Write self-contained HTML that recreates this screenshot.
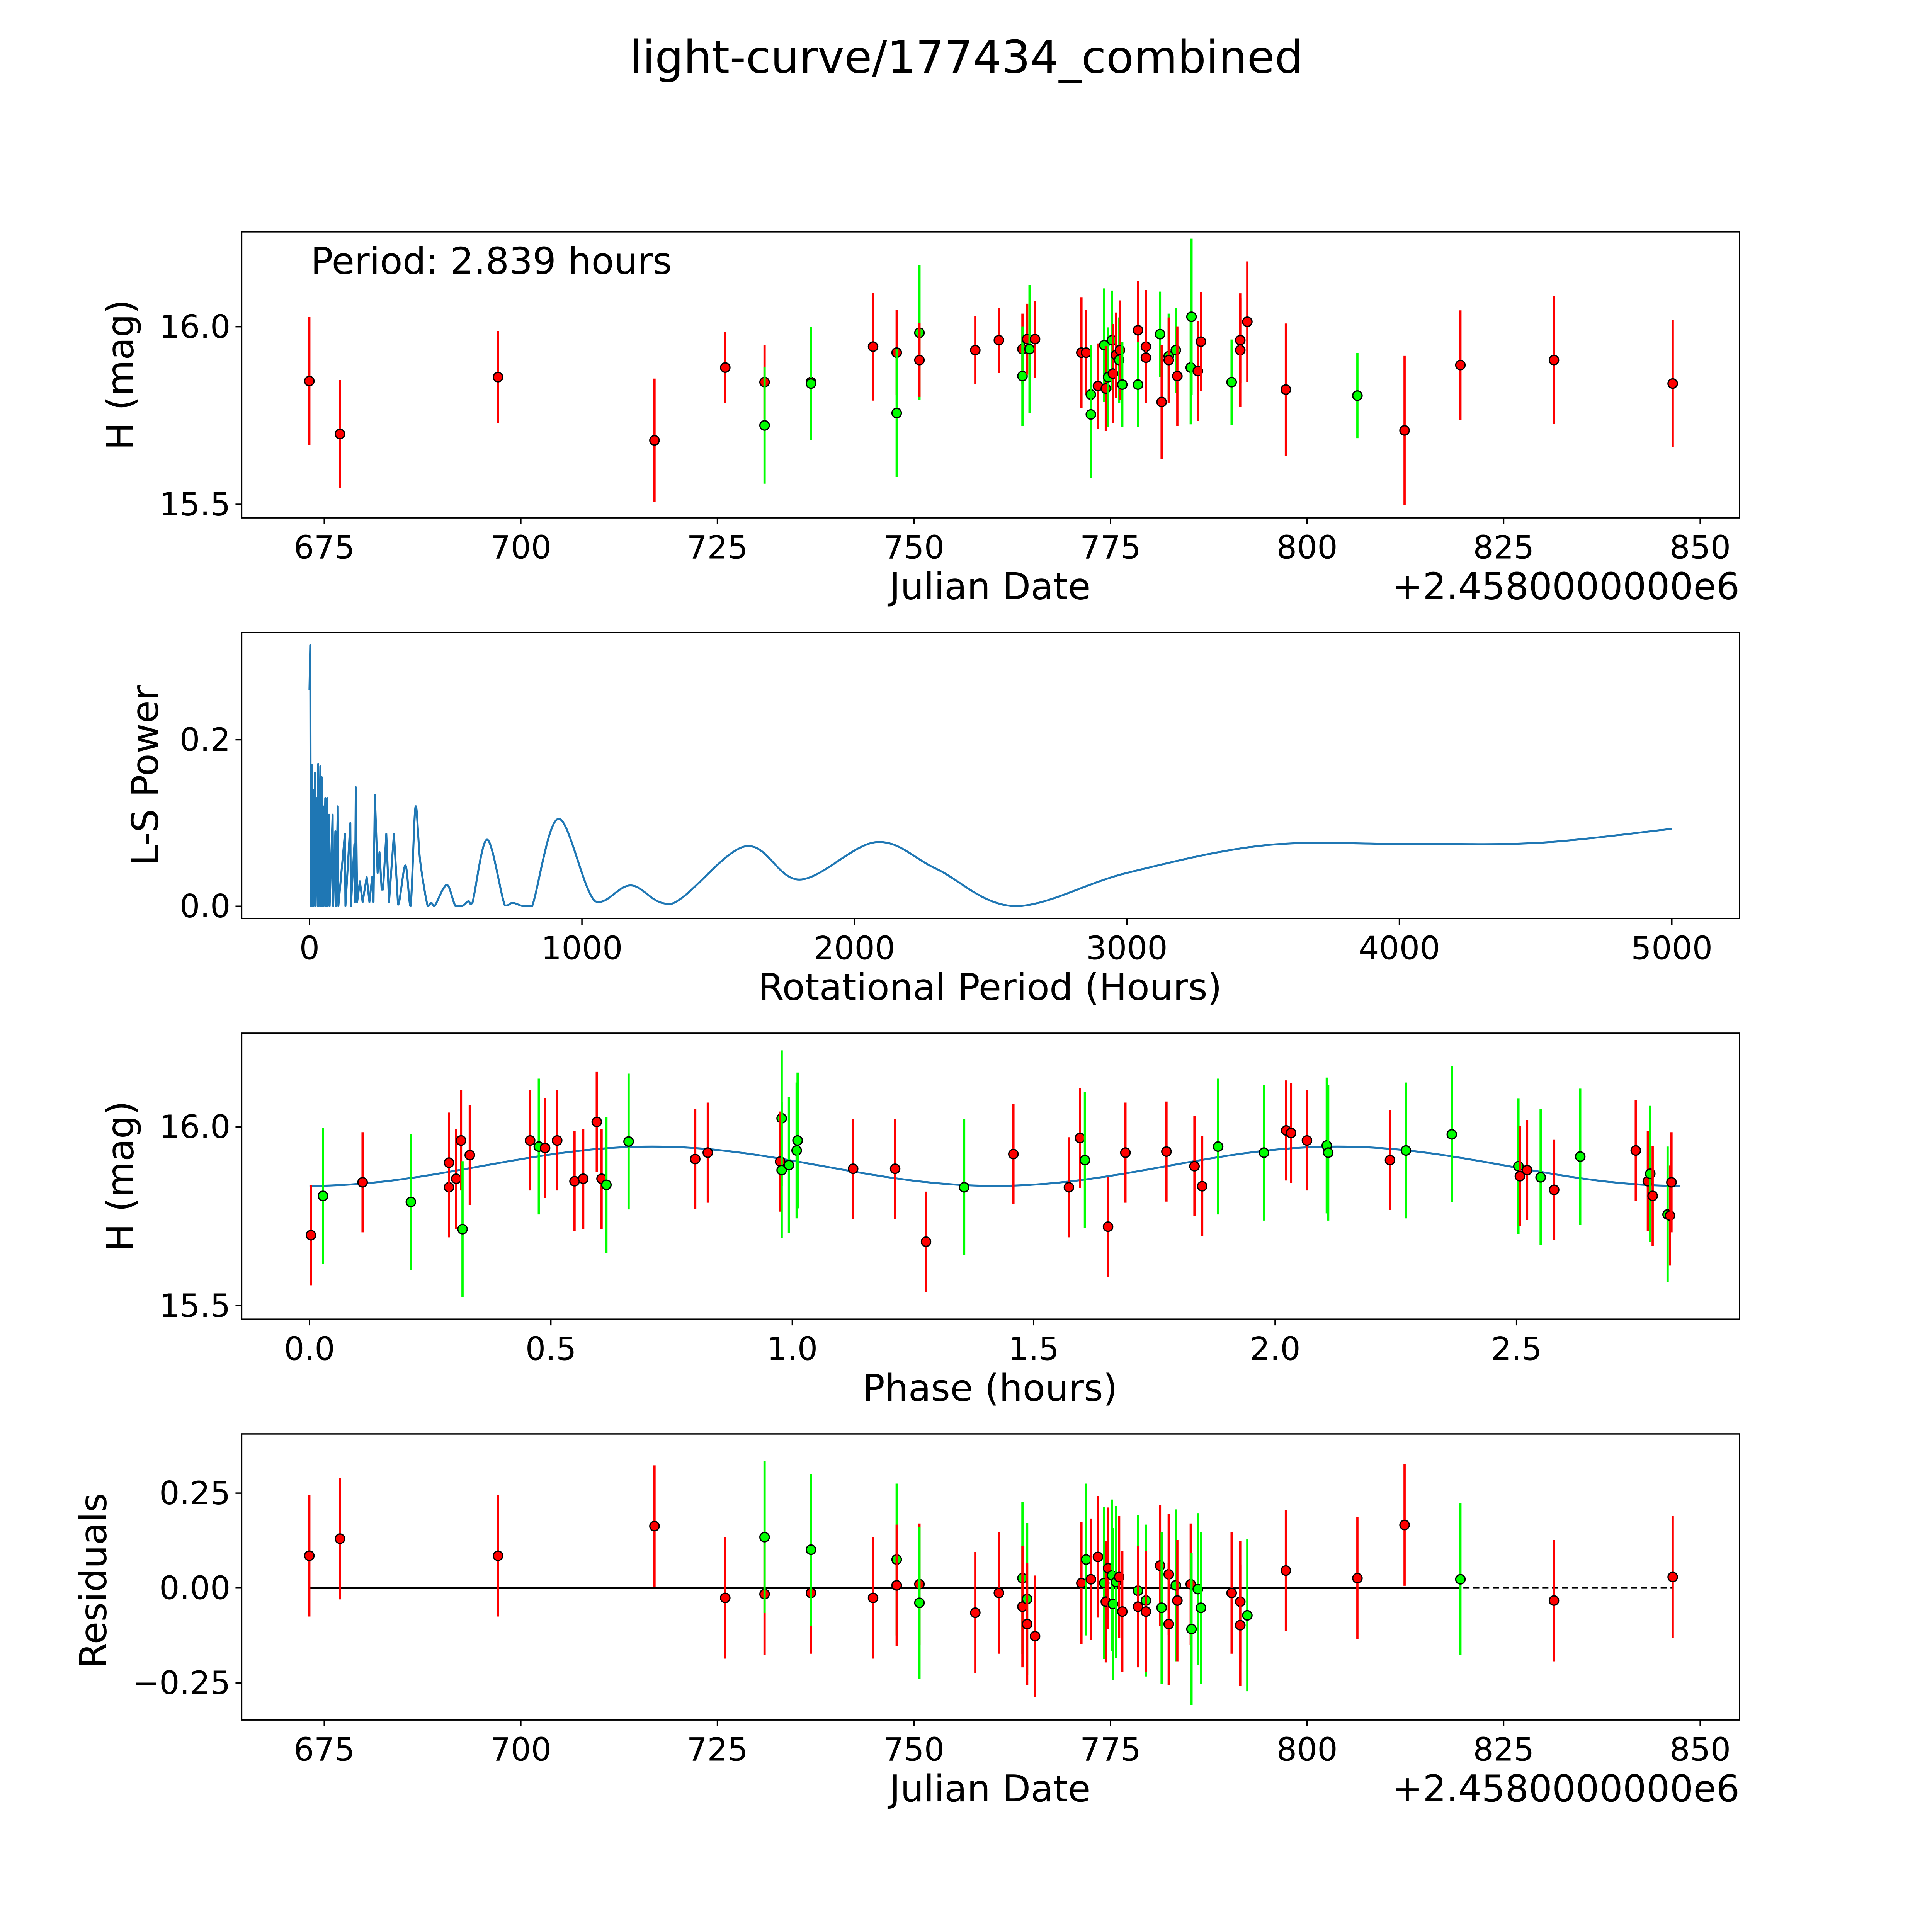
<!DOCTYPE html>
<html><head><meta charset="utf-8"><style>
html,body{margin:0;padding:0;background:#fff;overflow:hidden;width:100%;height:100%}
svg{display:block;position:absolute;left:0;top:0;width:100vw;height:100vh}
text{font-family:"DejaVu Sans","Liberation Sans",sans-serif;fill:#000}
</style></head><body>
<svg id="fig" viewBox="0 0 1567 1567" preserveAspectRatio="none" xmlns="http://www.w3.org/2000/svg">
<rect width="1567" height="1567" fill="#fff"/>
<text x="784" y="59" font-size="36.5" text-anchor="middle">light-curve/177434_combined</text>
<g id="root"></g>
</svg>
<script>
// ---------- Panel 1 data (Julian Date offset, magnitude) ----------
const dateVals=[673.1,677.0,697.1,717.0,726.0,731.0,731.0,736.9,736.9,744.8,747.8,747.8,750.7,750.7,757.8,760.8,763.8,763.8,764.4,764.7,765.4,771.3,771.9,772.5,772.5,773.4,774.2,774.4,774.7,775.2,775.3,775.7,776.1,776.2,776.5,778.5,778.5,779.5,779.5,781.3,781.5,782.4,782.4,783.3,783.5,785.2,785.3,786.1,786.5,790.4,791.5,791.5,792.4,797.3,806.4,812.4,819.5,831.4,846.5];
const magVals=[15.847,15.698,15.858,15.68,15.885,15.844,15.722,15.844,15.84,15.944,15.927,15.757,15.983,15.906,15.934,15.962,15.937,15.861,15.965,15.937,15.965,15.927,15.927,15.809,15.753,15.833,15.948,15.826,15.858,15.962,15.868,15.92,15.906,15.934,15.837,15.99,15.837,15.944,15.913,15.979,15.788,15.917,15.906,15.934,15.861,15.885,16.028,15.875,15.958,15.844,15.934,15.962,16.014,15.823,15.806,15.708,15.892,15.906,15.84];
const errVals=[0.18,0.152,0.13,0.174,0.1,0.104,0.164,0.1,0.16,0.152,0.12,0.18,0.19,0.104,0.096,0.092,0.1,0.14,0.1,0.18,0.108,0.156,0.12,0.14,0.18,0.12,0.16,0.12,0.14,0.14,0.14,0.12,0.12,0.14,0.12,0.14,0.12,0.16,0.12,0.12,0.16,0.12,0.12,0.12,0.14,0.16,0.22,0.14,0.14,0.12,0.16,0.12,0.17,0.186,0.12,0.21,0.154,0.18,0.18];
const colorVals="rrrrrrgrgrrggrrrrgrgrrrggrgrggrrgrgrgrrgrgrgrggrrgrrrrgrrr";
// ---------- Panel 2 data (periodogram) ----------
const periodVals=[0,3,5,8,10,13,15,20,22,28,30,32,34,40,42,45,47,50,52,58,60,65,67,72,74,85,87,95,97,104,106,130,132,150,152,165,167,170,175,185,195,210,220,230,235,240,250,257,265,270,282,292,310,325,352,371,389,406,434,447,459,491,510,536,560,583,598,652,717,746,784,817,914,1048,1180,1330,1600,1800,2080,2300,2590,3000,3500,4000,4500,5000];
const powerVals=[0.26,0.314,0,0.17,0,0.14,0,0.16,0,0.13,0,0.171,0,0.168,0,0.155,0,0.12,0,0.13,0,0.13,0,0.11,0,0.11,0,0.09,0,0.12,0,0.087,0,0.1,0,0.075,0.005,0.143,0.005,0.03,0.005,0.035,0.005,0.035,0.005,0.134,0.04,0.065,0.02,0.02,0.087,0.005,0.087,0.002,0.049,0,0.119,0.055,0,0.004,0,0.021,0.024,0,0,0.006,0.004,0.08,0.001,0.004,0,0,0.105,0.006,0.025,0.003,0.072,0.032,0.077,0.045,0,0.04,0.073,0.075,0.076,0.093];
// ---------- Panel 3 data (phase-folded) ----------
const phaseVals=[0.003,0.028,0.110,0.210,0.289,0.289,0.304,0.314,0.317,0.332,0.457,0.475,0.488,0.513,0.549,0.567,0.595,0.605,0.615,0.661,0.799,0.825,0.978,0.975,0.978,0.993,1.009,1.011,1.126,1.213,1.277,1.356,1.458,1.573,1.596,1.606,1.654,1.690,1.775,1.833,1.849,1.882,1.977,2.023,2.033,2.066,2.107,2.110,2.238,2.271,2.366,2.504,2.507,2.522,2.550,2.578,2.632,2.747,2.772,2.777,2.782,2.813,2.818,2.821];
const phaseMag=[15.697,15.807,15.845,15.79,15.831,15.9,15.855,15.962,15.714,15.921,15.962,15.945,15.941,15.962,15.848,15.855,16.014,15.855,15.838,15.959,15.91,15.928,16.024,15.903,15.879,15.893,15.934,15.962,15.883,15.883,15.679,15.831,15.924,15.831,15.969,15.907,15.721,15.928,15.931,15.89,15.834,15.945,15.928,15.99,15.983,15.962,15.948,15.928,15.907,15.934,15.979,15.89,15.862,15.879,15.859,15.824,15.917,15.934,15.848,15.869,15.807,15.755,15.752,15.845];
const phaseColor="rgrgrrrrgrrgrrrrrrggrrgrggggrrrgrrrgrrrrrggrrrggrgggrrgrgrrgrg";
// ---------- Panel 4 data (residuals) ----------
const residDate=[673.1,677.0,697.1,717.0,726.0,731.0,731.0,736.9,736.9,744.8,747.8,747.8,750.7,750.7,757.8,760.8,763.8,763.8,764.4,764.4,765.4,771.3,771.9,772.5,773.4,774.2,774.4,774.7,775.2,775.3,775.7,776.1,776.5,778.5,778.5,779.5,779.5,781.3,781.5,782.4,782.4,783.3,783.5,785.2,785.3,786.1,786.5,790.4,791.5,791.5,792.4,797.3,806.4,812.4,819.5,831.4,846.5];
const residVals=[0.085,0.13,0.085,0.163,-0.026,-0.016,0.134,-0.013,0.101,-0.026,0.075,0.007,0.01,-0.039,-0.065,-0.013,0.026,-0.049,-0.029,-0.095,-0.127,0.013,0.075,0.023,0.082,0.013,-0.036,0.052,0.033,-0.042,0.016,0.029,-0.062,-0.007,-0.049,-0.033,-0.062,0.059,-0.052,0.036,-0.095,0.007,-0.033,0.01,-0.108,-0.003,-0.052,-0.013,-0.036,-0.098,-0.072,0.046,0.026,0.166,0.023,-0.033,0.029];
const residColor="rrrrrrgrgrgrrgrrgrgrrrgrrgrrgggrrgrgrrgrrgrrgggrrrgrrrgrrr";
// ---------- Tick labels ----------
const dateTicks=[675,700,725,750,775,800,825,850];
const magTicks=[15.5,16.0];
const periodTicks=[0,1000,2000,3000,4000,5000];
const powerTicks=[0.0,0.2];
const phaseTicks=[0.0,0.5,1.0,1.5,2.0,2.5];
const residTicks=[-0.25,0.00,0.25];

const NS="http://www.w3.org/2000/svg";
const root=document.getElementById('root');
function el(tag,attrs,parent){const e=document.createElementNS(NS,tag);for(const k in attrs)e.setAttribute(k,attrs[k]);(parent||root).appendChild(e);return e;}
const X0=196,X1=1411;
function lin(d0,d1,r0,r1){return v=>r0+(v-d0)*(r1-r0)/(d1-d0);}
const xDate=lin(675,850,263,1379);
const red="#ff0000",green="#00ff00";
const TF=26,LF=30;

function frame(top,name){
  const r=el('rect',{x:X0,y:top,width:X1-X0,height:232,fill:'none',stroke:'#000','stroke-width':1.1});
  
  
}
function xTicks(g,ticks,fx,bottom,fmt,name){
  ticks.forEach(t=>{const x=fx(t);
    el('line',{x1:x,x2:x,y1:bottom,y2:bottom+5,stroke:'#000','stroke-width':1.1},g);
    const tx=el('text',{x:x,y:bottom+33,'font-size':TF,'text-anchor':'middle'},g);tx.textContent=fmt(t);
    
    });
}
function yTicks(g,ticks,fy,fmt,name){
  ticks.forEach(t=>{const y=fy(t);
    el('line',{x1:X0,x2:X0-5,y1:y,y2:y,stroke:'#000','stroke-width':1.1},g);
    const tx=el('text',{x:X0-9,y:y+9,'font-size':TF,'text-anchor':'end'},g);tx.textContent=fmt(t);
    
    });
}
function label(g,txt,x,y,rot,name,size){
  const t=el('text',{x:x,y:y,'font-size':size||LF,'text-anchor':'middle',transform:rot?`rotate(-90 ${x} ${y})`:''},g);t.textContent=txt;
  
  
}
function pt(g,x,y,eh,c,name){
  const l=el('line',{x1:x,x2:x,y1:y-eh,y2:y+eh,stroke:c,'stroke-width':1.8},g);
  
  
  const p=el('circle',{cx:x,cy:y,r:3.8,fill:c,stroke:'#000','stroke-width':1},g);
  
  
}
const fmtMag=v=>v.toFixed(1);

// Panel 1
{const g=el('g',{});
 const top=188,fy=lin(15.5,16.0,409,265);
 frame(top,'light-curve');
 dateVals.forEach((d,i)=>{const c=colorVals[i]==='g'?green:red;const e=errVals[i]||0.14;
   pt(g,xDate(d),fy(magVals[i]),fy(15.5)-fy(15.5+e),c,'observation');});
 xTicks(g,dateTicks,xDate,420,v=>String(v),'julian-date');
 yTicks(g,magTicks,fy,fmtMag,'magnitude');
 label(g,'Julian Date',803,486,false,'x-axis-title');
 const off=el('text',{x:1411,y:486,'font-size':LF,'text-anchor':'end'},g);off.textContent='+2.4580000000e6';
 
 
 label(g,'H (mag)',108,304,true,'y-axis-title');
 const pl=el('text',{x:252,y:222,'font-size':LF},g);pl.textContent='Period: 2.839 hours';
 
 }

// Panel 2
{const g=el('g',{});
 const fx=lin(0,5000,251,1356),fy=lin(0,0.2,735,600);
 frame(513,'periodogram');
 let d='';
 const P=periodVals.map((p,i)=>[fx(p),fy(powerVals[i])]);
 const split=periodVals.findIndex(p=>p>=325);
 for(let i=0;i<=split;i++)d+=(i?'L':'M')+P[i][0].toFixed(2)+' '+P[i][1].toFixed(2);
 for(let i=split;i<P.length-1;i++){const p0=P[Math.max(i-1,0)],p1=P[i],p2=P[i+1],p3=P[Math.min(i+2,P.length-1)];
   const c1=[p1[0]+(p2[0]-p0[0])/6,p1[1]+(p2[1]-p0[1])/6],c2=[p2[0]-(p3[0]-p1[0])/6,p2[1]-(p3[1]-p1[1])/6];
   d+=`C${c1[0].toFixed(2)} ${Math.min(c1[1],735).toFixed(2)} ${c2[0].toFixed(2)} ${Math.min(c2[1],735).toFixed(2)} ${p2[0].toFixed(2)} ${p2[1].toFixed(2)}`;}
 const path=el('path',{d:d,fill:'none',stroke:'#1f77b4','stroke-width':1.6,'stroke-linejoin':'round'},g);
 
 
 xTicks(g,periodTicks,fx,745,v=>String(v),'period');
 yTicks(g,powerTicks,fy,v=>v.toFixed(1),'power');
 label(g,'Rotational Period (Hours)',803,811,false,'x-axis-title');
 label(g,'L-S Power',128,629,true,'y-axis-title');}

// Panel 3
{const g=el('g',{});
 const fx=lin(0,2.5,251,1230),fy=lin(15.5,16.0,1059,914);
 frame(838,'phase');
 let d='';
 for(let i=0;i<=200;i++){const p=2.839*i/200;const m=15.89-0.055*Math.cos(2*Math.PI*2*p/2.839);d+=(i?'L':'M')+fx(p).toFixed(2)+' '+fy(m).toFixed(2);}
 const fit=el('path',{d:d,fill:'none',stroke:'#1f77b4','stroke-width':1.6},g);
 
 
 phaseVals.forEach((p,i)=>{const c=phaseColor[i]==='g'?green:red;const e=c===green?0.19:0.14;
   pt(g,fx(p),fy(phaseMag[i]),fy(15.5)-fy(15.5+e),c,'phased-observation');});
 xTicks(g,phaseTicks,fx,1070,v=>v.toFixed(1),'phase');
 yTicks(g,magTicks,fy,fmtMag,'magnitude');
 label(g,'Phase (hours)',803,1136,false,'x-axis-title');
 label(g,'H (mag)',108,954,true,'y-axis-title');}

// Panel 4
{const g=el('g',{});
 const fy=lin(0,0.25,1288,1211);
 frame(1163,'residuals');
 const dl=el('line',{x1:xDate(673.1),x2:xDate(846.5),y1:fy(0),y2:fy(0),stroke:'#000','stroke-width':1.2,'stroke-dasharray':'5 3'},g);
 
 
 const sl=el('line',{x1:xDate(673.1),x2:xDate(819.5),y1:fy(0),y2:fy(0),stroke:'#000','stroke-width':1.4},g);
 
 
 residDate.forEach((d,i)=>{const c=residColor[i]==='g'?green:red;const e=c===green?0.2:0.16;
   pt(g,xDate(d),fy(residVals[i]),fy(0)-fy(e),c,'residual');});
 xTicks(g,dateTicks,xDate,1395,v=>String(v),'julian-date');
 yTicks(g,residTicks,fy,v=>(v<0?'\u2212':'')+Math.abs(v).toFixed(2),'residual');
 label(g,'Julian Date',803,1461,false,'x-axis-title');
 const off=el('text',{x:1411,y:1461,'font-size':LF,'text-anchor':'end'},g);off.textContent='+2.4580000000e6';
 
 
 label(g,'Residuals',86,1282,true,'y-axis-title');}
</script>
</body></html>
